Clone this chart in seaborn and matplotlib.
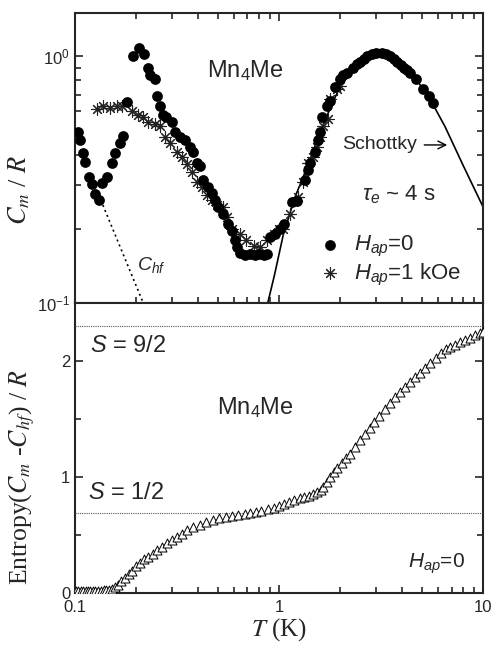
import numpy as np
import pandas as pd
import matplotlib
matplotlib.use('Agg')
import matplotlib.pyplot as plt
import matplotlib.ticker as mticker
import seaborn as sns

# ---- data ----
# top panel: C_m/R, H_ap = 0 (filled circles)
circ_T = [0.1035, 0.106, 0.109, 0.112, 0.117, 0.121, 0.125, 0.131, 0.136, 0.143,
          0.152, 0.157, 0.166, 0.172, 0.180, 0.192, 0.206, 0.218, 0.228, 0.233,
          0.247, 0.252, 0.26, 0.27, 0.28, 0.299, 0.309, 0.327, 0.346, 0.366,
          0.379, 0.396, 0.409, 0.424, 0.449, 0.469, 0.485, 0.502, 0.53, 0.56,
          0.59, 0.605, 0.62, 0.64, 0.68, 0.72, 0.76, 0.80, 0.84, 0.87,
          0.90, 0.95, 1.01, 1.06, 1.16, 1.22, 1.34, 1.39, 1.42, 1.5,
          1.55, 1.58, 1.62, 1.71, 1.78, 1.87, 1.98, 2.06, 2.16, 2.3,
          2.4, 2.49, 2.6, 2.7, 2.85, 3.0, 3.2, 3.35, 3.5, 3.65,
          3.8, 3.95, 4.1, 4.25, 4.4, 4.7, 5.1, 5.4, 5.7]
circ_C = [0.495, 0.46, 0.407, 0.374, 0.325, 0.305, 0.277, 0.262, 0.307, 0.325,
          0.37, 0.404, 0.447, 0.477, 0.656, 1.0, 1.08, 1.02, 0.90, 0.84,
          0.81, 0.69, 0.63, 0.58, 0.57, 0.54, 0.495, 0.47, 0.46, 0.43,
          0.41, 0.37, 0.36, 0.316, 0.296, 0.28, 0.262, 0.245, 0.23, 0.21,
          0.195, 0.18, 0.169, 0.16, 0.157, 0.158, 0.157, 0.158, 0.157, 0.158,
          0.185, 0.19, 0.20, 0.21, 0.258, 0.26, 0.316, 0.347, 0.37, 0.41,
          0.46, 0.495, 0.57, 0.63, 0.66, 0.75, 0.81, 0.84, 0.86, 0.90,
          0.93, 0.95, 0.98, 1.0, 1.02, 1.03, 1.03, 1.02, 1.0, 0.98,
          0.95, 0.92, 0.90, 0.88, 0.86, 0.81, 0.74, 0.69, 0.65]

# top panel: H_ap = 1 kOe (stars)
star_T = [0.128, 0.137, 0.148, 0.16, 0.17, 0.19, 0.204, 0.215, 0.228, 0.247,
          0.26, 0.276, 0.292, 0.316, 0.335, 0.354, 0.374, 0.396, 0.419, 0.443,
          0.469, 0.497, 0.53, 0.555, 0.59, 0.64, 0.69, 0.75, 0.81, 0.87,
          0.94, 1.0, 1.04, 1.13, 1.24, 1.31, 1.39, 1.47, 1.53, 1.58,
          1.64, 1.73, 1.78, 1.92, 1.98]
star_C = [0.61, 0.63, 0.62, 0.63, 0.63, 0.60, 0.58, 0.57, 0.54, 0.53,
          0.52, 0.47, 0.447, 0.41, 0.39, 0.365, 0.34, 0.31, 0.296, 0.275,
          0.262, 0.25, 0.245, 0.223, 0.20, 0.19, 0.18, 0.17, 0.168, 0.18,
          0.19, 0.20, 0.20, 0.23, 0.27, 0.31, 0.37, 0.39, 0.43, 0.47,
          0.52, 0.56, 0.67, 0.74, 0.76]

# Schottky curve (solid) and hyperfine tail C_hf (dotted)
schottky_T = [0.88, 0.95, 1.05, 1.2, 1.4, 1.6, 1.8, 2.0, 2.3, 2.7,
              3.2, 3.8, 4.5, 5.5, 6.5, 8.0, 10.0]
schottky_C = [0.10, 0.13, 0.19, 0.27, 0.37, 0.50, 0.63, 0.76, 0.89, 0.99,
              1.03, 0.97, 0.85, 0.67, 0.52, 0.36, 0.245]
hf_T = [0.125, 0.216]
hf_C = [0.30, 0.10]

# bottom panel: entropy (open triangles)
ent_T = [0.101, 0.104, 0.107, 0.110, 0.113, 0.116, 0.119, 0.122, 0.126, 0.130,
         0.134, 0.138, 0.142, 0.147, 0.152, 0.157, 0.162, 0.168, 0.176, 0.183,
         0.19, 0.20, 0.208, 0.218, 0.228, 0.24, 0.252, 0.267, 0.283, 0.30,
         0.316, 0.335, 0.354, 0.38, 0.41, 0.44, 0.475, 0.51, 0.55, 0.59,
         0.63, 0.68, 0.72, 0.77, 0.82, 0.88, 0.94, 1.0, 1.06, 1.12,
         1.18, 1.26, 1.33, 1.4, 1.47, 1.53, 1.6, 1.65, 1.71, 1.78,
         1.85, 1.93, 2.03, 2.12, 2.22, 2.35, 2.49, 2.63, 2.78, 2.93,
         3.1, 3.3, 3.5, 3.7, 3.9, 4.15, 4.4, 4.65, 4.9, 5.2,
         5.5, 5.85, 6.2, 6.55, 6.9, 7.3, 7.7, 8.15, 8.6, 9.1,
         9.6, 10.0]
ent_S = [0.02, 0.02, 0.02, 0.02, 0.02, 0.02, 0.02, 0.02, 0.02, 0.02,
         0.02, 0.025, 0.03, 0.03, 0.035, 0.05, 0.07, 0.10, 0.13, 0.16,
         0.19, 0.23, 0.26, 0.29, 0.31, 0.34, 0.37, 0.40, 0.43, 0.455,
         0.48, 0.51, 0.54, 0.565, 0.585, 0.61, 0.63, 0.645, 0.655, 0.665,
         0.675, 0.685, 0.69, 0.70, 0.71, 0.72, 0.735, 0.75, 0.77, 0.785,
         0.80, 0.815, 0.825, 0.84, 0.855, 0.87, 0.89, 0.91, 0.96, 1.0,
         1.04, 1.08, 1.12, 1.16, 1.2, 1.26, 1.32, 1.37, 1.42, 1.475,
         1.53, 1.59, 1.64, 1.69, 1.73, 1.78, 1.82, 1.86, 1.90, 1.94,
         1.98, 2.03, 2.07, 2.10, 2.12, 2.14, 2.16, 2.18, 2.20, 2.22,
         2.24, 2.25]

# limits R ln(2S+1)
s_levels = [2.30, 0.69]

circ = pd.DataFrame({'T': circ_T, 'C': circ_C})
star = pd.DataFrame({'T': star_T, 'C': star_C})
sch = pd.DataFrame({'T': schottky_T, 'C': schottky_C})
hf = pd.DataFrame({'T': hf_T, 'C': hf_C})
ent = pd.DataFrame({'T': ent_T, 'S': ent_S})

# ---- style ----
sns.set_style('ticks')
plt.rcParams['font.family'] = ['Liberation Sans', 'DejaVu Sans']
plt.rcParams['mathtext.fontset'] = 'custom'
plt.rcParams['mathtext.rm'] = 'Liberation Sans'
plt.rcParams['mathtext.it'] = 'Liberation Sans:italic'
plt.rcParams['mathtext.bf'] = 'Liberation Sans:bold'
plt.rcParams['axes.linewidth'] = 1.5

fig = plt.figure(figsize=(4.95, 6.49), dpi=100)
ax1 = fig.add_axes([0.1515, 0.5331, 0.8245, 0.4469])
ax2 = fig.add_axes([0.1515, 0.0863, 0.8245, 0.4468])

# ---- top panel ----
sns.lineplot(data=hf, x='T', y='C', ax=ax1, color='black', lw=1.2,
             linestyle=(0, (1.2, 2.0)), sort=False, estimator=None)
sns.lineplot(data=sch, x='T', y='C', ax=ax1, color='black', lw=1.2,
             sort=False, estimator=None)
sns.scatterplot(data=star, x='T', y='C', ax=ax1, marker=(8, 2, 0), s=70,
                color='#222222', linewidth=0.8, label='$H_{ap}$=1 kOe', zorder=3)
sns.scatterplot(data=circ, x='T', y='C', ax=ax1, marker='o', s=60,
                color='black', edgecolor='black', linewidth=0,
                label='$H_{ap}$=0', zorder=4)

ax1.set_xscale('log')
ax1.set_yscale('log')
ax1.set_xlim(0.1, 10)
ax1.set_ylim(0.1, 1.5)
ax1.yaxis.set_major_locator(mticker.LogLocator(base=10, numticks=5))
ax1.yaxis.set_minor_formatter(mticker.NullFormatter())
ax1.xaxis.set_major_formatter(mticker.NullFormatter())
ax1.xaxis.set_minor_formatter(mticker.NullFormatter())
ax1.set_xlabel('')
ax1.set_ylabel('$C_m$ / $R$', fontsize=19, math_fontfamily='stix',
               family='Liberation Serif')
ax1.yaxis.set_label_coords(-0.105, 0.39)

h, l = ax1.get_legend_handles_labels()
ax1.legend(h[::-1], l[::-1], loc='center left', bbox_to_anchor=(0.565, 0.145),
           frameon=False, fontsize=16, handletextpad=0.5, labelspacing=0.1,
           borderpad=0, handlelength=1.2)

ax1.text(0.324, 0.80, 'Mn$_4$Me', transform=ax1.transAxes, fontsize=17,
         ha='left', va='center')
ax1.annotate('Schottky', xy=(0.912, 0.545), xytext=(0.654, 0.545),
             xycoords='axes fraction', textcoords='axes fraction',
             fontsize=14, ha='left', va='center',
             arrowprops=dict(arrowstyle='->', color='black', lw=1.0,
                             shrinkA=3, shrinkB=0))
ax1.text(0.703, 0.375, r'$\tau_e$ ~ 4 s', transform=ax1.transAxes,
         fontsize=16, ha='left', va='center')
ax1.text(0.152, 0.13, '$C_{hf}$', transform=ax1.transAxes, fontsize=14,
         ha='left', va='center')

# ---- bottom panel ----
for s in s_levels:
    ax2.axhline(s, color='#555555', lw=0.8, linestyle=(0, (1, 1)), zorder=1)
sns.scatterplot(data=ent, x='T', y='S', ax=ax2, marker='^', s=42,
                facecolor='white', edgecolor='black', linewidth=0.7, zorder=3)

ax2.set_xscale('log')
ax2.set_xlim(0.1, 10)
ax2.set_ylim(0, 2.5)
ax2.xaxis.set_major_formatter(mticker.FuncFormatter(lambda v, p: f'{v:g}'))
ax2.xaxis.set_minor_formatter(mticker.NullFormatter())
ax2.yaxis.set_major_locator(mticker.MultipleLocator(1))
ax2.yaxis.set_minor_locator(mticker.MultipleLocator(0.5))
ax2.set_xlabel('$T$ (K)', fontsize=18, math_fontfamily='stix',
               family='Liberation Serif', labelpad=1)
ax2.set_ylabel('Entropy($C_m$ -$C_{hf}$) / $R$', fontsize=18.5,
               math_fontfamily='stix', family='Liberation Serif')
ax2.yaxis.set_label_coords(-0.093, 0.4)

ax2.text(0.037, 0.852, '$S$ = 9/2', transform=ax2.transAxes, fontsize=17,
         ha='left', va='center')
ax2.text(0.032, 0.345, '$S$ = 1/2', transform=ax2.transAxes, fontsize=17,
         ha='left', va='center')
ax2.text(0.348, 0.64, 'Mn$_4$Me', transform=ax2.transAxes, fontsize=17,
         ha='left', va='center')
ax2.text(0.816, 0.10, '$H_{ap}$=0', transform=ax2.transAxes, fontsize=15,
         ha='left', va='center')

for ax in (ax1, ax2):
    ax.tick_params(which='both', direction='in', labelsize=12, width=1.2)
    ax.tick_params(which='major', length=6)
    ax.tick_params(which='minor', length=4)
    for sp in ax.spines.values():
        sp.set_visible(True)
        sp.set_linewidth(1.5)
ax1.tick_params(which='both', top=True, right=True, bottom=True)
ax2.tick_params(which='both', top=False, right=True)
ax2.tick_params(axis='x', pad=5)

fig.savefig('out.png', dpi=100)
